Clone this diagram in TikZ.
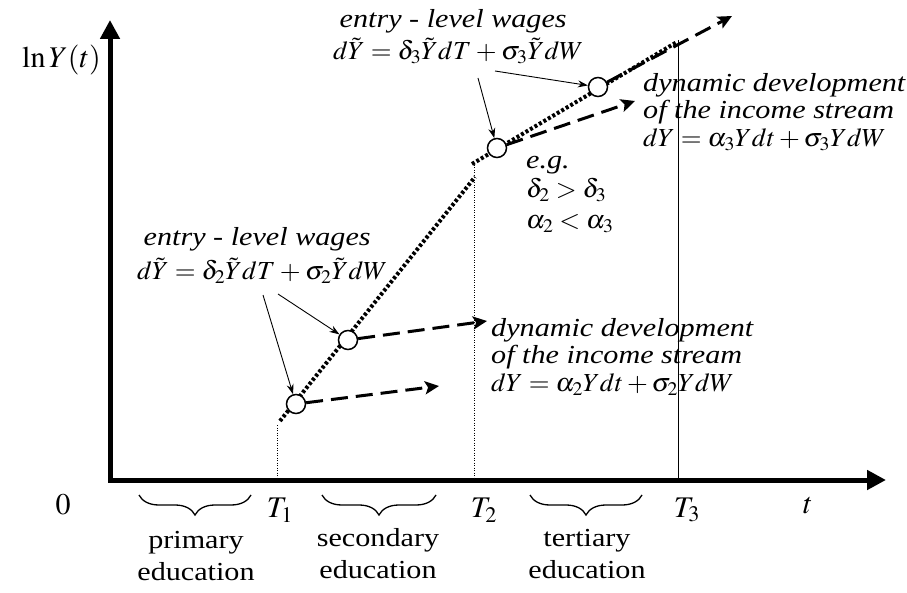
\documentclass[tikz,border=0pt]{standalone}
\usepackage{mathptmx}
\usepackage{graphicx}
\usepackage{fontspec}
\setmainfont{Liberation Serif}
\usetikzlibrary{arrows.meta,decorations.pathreplacing}
\newcommand{\widetxt}[1]{\scalebox{1.16}[1]{#1}}
\newcommand{\widemath}[1]{\scalebox{1.03}[1]{#1}}

\begin{document}
\begin{tikzpicture}[x=1pt, y=-1pt,
    axis/.style={line width=5pt, -{Triangle[length=19pt,width=19pt]}},
    guide/.style={line width=0.5pt, dotted},
    path line/.style={line width=4pt, dash pattern=on 3pt off 2.2pt},
    growth/.style={line width=3pt, dash pattern=on 17pt off 8pt, -{Stealth[length=14pt,width=13pt,inset=3pt]}},
    pointer/.style={line width=0.9pt, -{Stealth[length=10pt,width=7pt]}},
    knot/.style={circle, draw, fill=white, line width=1.5pt, minimum size=19pt, inner sep=0pt},
    note/.style={font=\fontsize{26}{27.5}\selectfont\itshape, align=left, inner sep=0pt},
    edu/.style={font=\fontsize{26}{32}\selectfont, align=center, inner sep=0pt},
    tick/.style={font=\fontsize{30}{32}\selectfont, inner sep=0pt}]
  % Background
  \useasboundingbox (0, 0) rectangle (907, 593);

  % Axes
  \coordinate (ytop) at (110, 20);
  \coordinate (xend) at (886, 480);
  \draw[axis] (110, 482) -- (ytop);
  \draw[axis] (108, 480) -- (xend);
  \node[tick, anchor=east] (ylab) at (101, 60) {$\ln Y(t)$};

  % Ticks
  \node[tick] (t0) at (63, 505) {$0$};
  \node[tick] (t1) at (280, 510) {$T_1$};
  \node[tick] (t2) at (484, 510) {$T_2$};
  \node[tick] (t3) at (687, 510) {$T_3$};
  \node[tick] (tt) at (808, 506) {$t$};

  % Guides
  \coordinate (g1) at (277, 425);
  \coordinate (g2) at (474, 165);
  \coordinate (g3) at (678, 40);
  \draw[guide] (g1) -- (277, 478);
  \draw[guide] (g2) -- (474, 478);
  \draw[line width=0.5pt] (g3) -- (678, 478);

  % Education phases
  \draw[line width=1.3pt, decorate, decoration={brace, mirror, amplitude=20pt}] (139, 495) -- (251, 495);
  \draw[line width=1.3pt, decorate, decoration={brace, mirror, amplitude=20pt}] (322, 495) -- (436, 495);
  \draw[line width=1.3pt, decorate, decoration={brace, mirror, amplitude=20pt}] (530, 495) -- (642, 495);
  \node[edu] (primary) at (196, 556) {\widetxt{primary}\\\widetxt{education}};
  \node[edu] (secondary) at (378, 554) {\widetxt{secondary}\\\widetxt{education}};
  \node[edu] (tertiary) at (587, 554) {\widetxt{tertiary}\\\widetxt{education}};

  % Income paths
  \coordinate (p1) at (280, 421);
  \coordinate (p2) at (475, 177);
  \coordinate (p3) at (472, 164);
  \coordinate (p4) at (677, 42);
  \draw[path line] (p1) -- (p2);
  \draw[path line] (p3) -- (p4);

  % Entry points
  \node[knot] (k1) at (296, 404) {};
  \node[knot] (k2) at (348, 340) {};
  \node[knot] (k3) at (497, 148) {};
  \node[knot] (k4) at (598, 87) {};

  % Dynamic development
  \coordinate (d1) at (439, 386);
  \coordinate (d2) at (487, 321);
  \coordinate (d3) at (635, 101);
  \coordinate (d4) at (732, 16);
  \draw[growth] (k1) -- (d1);
  \draw[growth] (k2) -- (d2);
  \draw[growth] (k3) -- (d3);
  \draw[growth] (k4) -- (d4);

  % Labels
  \node[note, anchor=north west] (entry2) at (137, 227)
    {\ \widetxt{entry - level wages}\\[7pt]
     {\medmuskip=3mu\thickmuskip=4mu\widemath{$d\tilde{Y} = \delta_2\tilde{Y}dT + \sigma_2\tilde{Y}dW$}}};
  \node[note, anchor=north west] (entry3) at (333, 9)
    {\ \widetxt{entry - level wages}\\[5pt]
     {\medmuskip=3mu\thickmuskip=4mu\widemath{$d\tilde{Y} = \delta_3\tilde{Y}dT + \sigma_3\tilde{Y}dW$}}};
  \node[note, anchor=north west] (dyn2) at (491, 318)
    {\widetxt{dynamic development}\\ \widetxt{of the income stream}\\
     \widemath{$dY = \alpha_2 Ydt + \sigma_2 YdW$}};
  \node[note, anchor=north west] (dyn3) at (643, 73)
    {\widetxt{dynamic development}\\ \widetxt{of the income stream}\\
     \widemath{$dY = \alpha_3 Ydt + \sigma_3 YdW$}};
  \node[note, anchor=north west] (eg) at (526, 156)
    {\widetxt{e.g.}\\[2pt] \widemath{$\delta_2 > \delta_3$}\\[3pt] \widemath{$\alpha_2 < \alpha_3$}};

  % Pointers
  \coordinate (a1) at (263, 295);
  \coordinate (a2) at (278, 294);
  \coordinate (a3) at (478, 78);
  \coordinate (a4) at (495, 71);
  \draw[pointer] (a1) -- (k1);
  \draw[pointer] (a2) -- (k2);
  \draw[pointer] (a3) -- (k3);
  \draw[pointer] (a4) -- (k4);

\end{tikzpicture}
\end{document}
